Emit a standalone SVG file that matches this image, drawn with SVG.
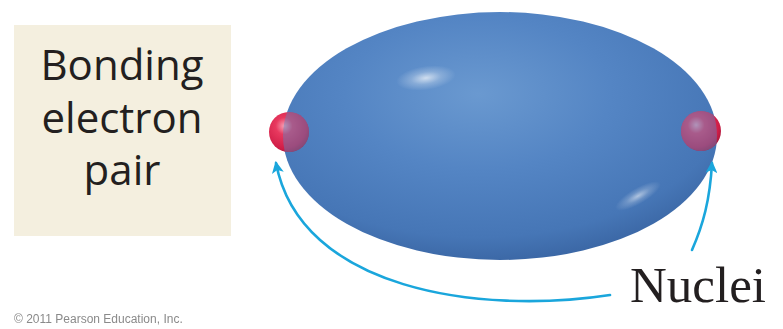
<svg xmlns="http://www.w3.org/2000/svg" width="783" height="329" viewBox="0 0 783 329">
  <style>
    .label { font-family: "Open Sans", "Noto Sans", "Liberation Sans", sans-serif; font-size: 42px; fill: #231f20; text-anchor: middle; }
    .nuclei { font-family: "Liberation Serif", "DejaVu Serif", serif; font-size: 51px; fill: #231f20; }
    .credit { font-family: "Liberation Sans", Arial, sans-serif; font-size: 12px; fill: #8a8a8a; }
    .arrow { fill: none; stroke: #1aa6dc; stroke-width: 2.6; stroke-linecap: round; marker-end: url(#head); }
  </style>
  <defs>
    <marker id="head" viewBox="0 0 12 12" refX="10" refY="6" markerWidth="12" markerHeight="12" markerUnits="userSpaceOnUse" orient="auto">
      <path d="M0,0 L12,6 L0,12 L3,6 Z" fill="#1aa6dc"/>
    </marker>
    <radialGradient id="cloud" cx="0.45" cy="0.33" r="0.68">
      <stop offset="0" stop-color="#6a99d0"/>
      <stop offset="0.45" stop-color="#5485c4"/>
      <stop offset="0.85" stop-color="#4676b6"/>
      <stop offset="1" stop-color="#3b67a5"/>
    </radialGradient>
    <radialGradient id="ball" cx="0.38" cy="0.35" r="0.7">
      <stop offset="0" stop-color="#f7a0b4"/>
      <stop offset="0.3" stop-color="#e8395f"/>
      <stop offset="0.8" stop-color="#d01d47"/>
      <stop offset="1" stop-color="#a8173a"/>
    </radialGradient>
    <radialGradient id="shine">
      <stop offset="0" stop-color="#ffffff" stop-opacity="0.7"/>
      <stop offset="0.5" stop-color="#ffffff" stop-opacity="0.25"/>
      <stop offset="1" stop-color="#ffffff" stop-opacity="0"/>
    </radialGradient>
    <clipPath id="nucleiClip">
      <circle cx="289" cy="132" r="20"/>
      <circle cx="701" cy="131" r="20"/>
    </clipPath>
    <filter id="soft" x="-5%" y="-20%" width="110%" height="140%">
      <feGaussianBlur stdDeviation="0.4"/>
    </filter>
  </defs>

  <rect width="783" height="329" fill="#ffffff"/>

  <g id="label-box">
    <rect x="14" y="25" width="217" height="211" fill="#f4efdf"/>
    <text class="label" x="122" y="80">Bonding</text>
    <text class="label" x="122" y="133">electron</text>
    <text class="label" x="122" y="185">pair</text>
  </g>

  <g id="electron-cloud">
    <ellipse cx="500" cy="136" rx="217" ry="124" fill="url(#cloud)"/>
    <ellipse cx="426" cy="78" rx="30" ry="12" fill="url(#shine)" transform="rotate(-8 426 78)"/>
    <ellipse cx="638" cy="196" rx="26" ry="8" fill="url(#shine)" opacity="0.8" transform="rotate(-30 638 196)"/>
  </g>

  <g id="nuclei">
    <circle cx="289" cy="132" r="20" fill="url(#ball)"/>
    <circle cx="701" cy="131" r="20" fill="url(#ball)"/>
    <!-- the cloud is translucent where it covers each nucleus -->
    <ellipse cx="500" cy="136" rx="217" ry="124" fill="#5a86c2" fill-opacity="0.45" clip-path="url(#nucleiClip)"/>
  </g>

  <g id="connectors">
    <path class="arrow" d="M610,295 C480,315 300,290 276,163"/>
    <path class="arrow" d="M692,250 C703,225 710,200 712,163"/>
  </g>

  <g id="nuclei-label">
    <text class="nuclei" x="630" y="302">Nuclei</text>
  </g>

  <text class="credit" x="14" y="323" filter="url(#soft)">© 2011 Pearson Education, Inc.</text>
</svg>
